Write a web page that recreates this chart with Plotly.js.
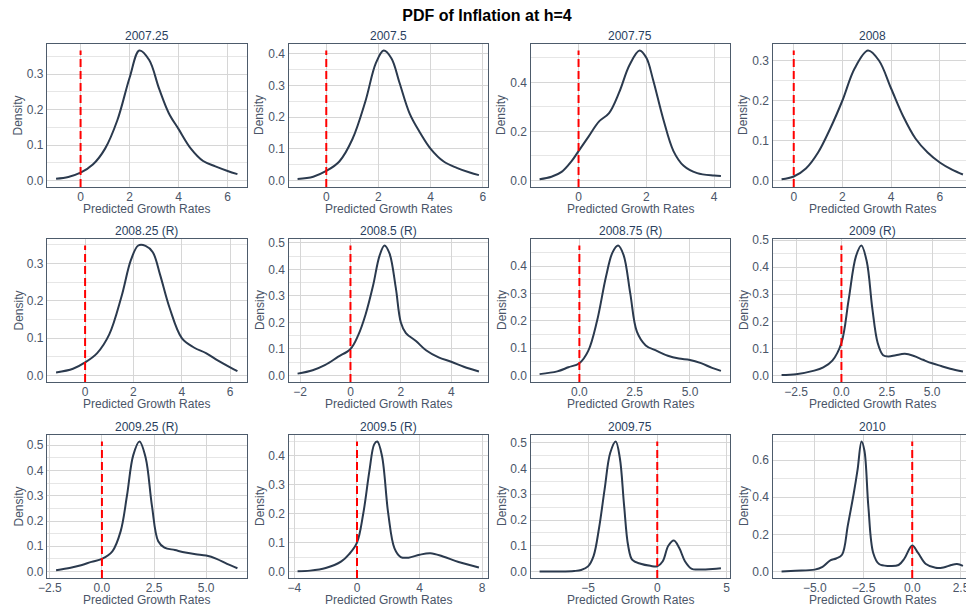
<!DOCTYPE html>
<html><head><meta charset="utf-8">
<script src="https://cdn.plot.ly/plotly-3.0.1.min.js"></script>
<style>html,body{margin:0;padding:0;overflow:hidden;background:#fff}#chart{width:1000px;height:606px}</style>
</head><body><div id="chart"></div><script>
const chartTitle = "PDF of Inflation at h=4";
const panelTitles = ["2007.25","2007.5","2007.75","2008","2008.25 (R)","2008.5 (R)","2008.75 (R)","2009 (R)","2009.25 (R)","2009.5 (R)","2009.75","2010"];
const xAxisTitle = "Predicted Growth Rates";
const yAxisTitle = "Density";
const threshold = 0;

const x_2007_25 = [-1.0,-0.5,0,0.5,1.0,1.5,2.0,2.4,2.8,3.2,3.6,4.0,4.5,5.0,5.5,6.0,6.4];
const d_2007_25 = [0.005,0.010,0.022,0.045,0.09,0.17,0.29,0.367,0.34,0.26,0.19,0.145,0.09,0.055,0.04,0.027,0.018];

const x_2007_5 = [-1.1,-0.5,0,0.5,1.0,1.5,1.9,2.2,2.5,2.8,3.2,3.6,4.0,4.5,5.0,5.5,5.85];
const d_2007_5 = [0.005,0.012,0.03,0.06,0.13,0.25,0.37,0.41,0.385,0.31,0.21,0.15,0.10,0.06,0.04,0.025,0.017];

const x_2007_75 = [-1.15,-0.8,-0.5,-0.2,0,0.3,0.6,0.9,1.2,1.5,1.8,2.0,2.2,2.5,2.8,3.1,3.5,4.0,4.2];
const d_2007_75 = [0.005,0.015,0.035,0.08,0.12,0.18,0.24,0.275,0.36,0.47,0.53,0.50,0.41,0.25,0.12,0.06,0.03,0.02,0.018];

const x_2008 = [-0.5,0,0.5,1.0,1.5,2.0,2.5,3.05,3.5,4.0,4.5,5.0,5.5,6.0,6.5,6.95];
const d_2008 = [0.003,0.01,0.03,0.07,0.13,0.20,0.28,0.325,0.30,0.23,0.16,0.105,0.07,0.045,0.027,0.015];

const x_2008_25 = [-1.2,-0.5,0,0.5,1.0,1.5,1.9,2.2,2.5,2.8,3.1,3.5,4.0,4.5,5.0,5.5,6.0,6.3];
const d_2008_25 = [0.008,0.018,0.035,0.06,0.11,0.21,0.31,0.348,0.347,0.33,0.27,0.18,0.10,0.075,0.06,0.04,0.022,0.012];

const x_2008_5 = [-2.1,-1.5,-1.0,-0.5,0,0.3,0.6,0.9,1.15,1.35,1.55,1.8,2.0,2.2,2.6,3.0,3.5,4.0,4.5,5.1];
const d_2008_5 = [0.007,0.02,0.04,0.07,0.10,0.15,0.23,0.34,0.45,0.49,0.46,0.33,0.20,0.16,0.13,0.095,0.068,0.052,0.033,0.015];

const x_2008_75 = [-1.8,-1.0,-0.5,0,0.4,0.8,1.2,1.5,1.75,2.0,2.3,2.6,3.0,3.5,4.0,4.5,5.0,5.5,6.0,6.4];
const d_2008_75 = [0.005,0.015,0.03,0.045,0.09,0.20,0.36,0.45,0.475,0.44,0.30,0.16,0.11,0.09,0.072,0.062,0.057,0.045,0.028,0.017];

const x_2009 = [-3.3,-2.5,-1.5,-1.0,-0.5,0,0.4,0.8,1.1,1.4,1.7,2.0,2.3,2.6,3.0,3.5,4.0,4.5,5.0,5.5,6.0,6.7];
const d_2009 = [0.002,0.005,0.018,0.03,0.055,0.12,0.28,0.44,0.48,0.42,0.25,0.12,0.075,0.07,0.075,0.08,0.072,0.058,0.045,0.035,0.025,0.015];

const x_2009_25 = [-2.2,-1.5,-1.0,-0.5,0,0.5,0.9,1.2,1.5,1.8,2.1,2.4,2.7,3.0,3.5,4.0,4.5,5.0,5.5,6.0,6.5];
const d_2009_25 = [0.005,0.015,0.025,0.038,0.05,0.08,0.16,0.30,0.46,0.515,0.45,0.26,0.12,0.095,0.085,0.075,0.068,0.063,0.05,0.03,0.013];

const x_2009_5 = [-3.8,-3.0,-2.0,-1.0,-0.5,0,0.4,0.8,1.1,1.3,1.6,2.0,2.4,2.8,3.3,4.0,4.7,5.5,6.5,7.8];
const d_2009_5 = [0.001,0.003,0.012,0.035,0.06,0.10,0.20,0.35,0.44,0.45,0.40,0.20,0.08,0.05,0.048,0.058,0.063,0.052,0.033,0.014];

const x_2009_75 = [-8.5,-7.0,-6.0,-5.5,-5.0,-4.6,-4.2,-3.8,-3.4,-3.0,-2.7,-2.4,-2.1,-1.8,-1.2,-0.5,0,0.4,0.8,1.2,1.6,2.0,2.5,3.0,4.0,4.6];
const d_2009_75 = [0.0,0.0,0.002,0.006,0.02,0.06,0.17,0.32,0.46,0.505,0.44,0.26,0.10,0.045,0.03,0.022,0.02,0.04,0.10,0.12,0.09,0.04,0.01,0.008,0.01,0.013];

const x_2010 = [-6.7,-6.0,-5.0,-4.6,-4.2,-3.9,-3.6,-3.3,-3.0,-2.8,-2.6,-2.45,-2.25,-2.0,-1.7,-1.2,-0.7,-0.4,0,0.3,0.7,1.2,1.6,2.0,2.3,2.6];
const d_2010 = [0.0,0.004,0.01,0.025,0.06,0.07,0.09,0.25,0.42,0.55,0.70,0.65,0.35,0.10,0.04,0.03,0.035,0.07,0.14,0.10,0.04,0.02,0.022,0.035,0.04,0.03];

const panelX = [x_2007_25,x_2007_5,x_2007_75,x_2008,x_2008_25,x_2008_5,x_2008_75,x_2009,x_2009_25,x_2009_5,x_2009_75,x_2010];
const panelD = [d_2007_25,d_2007_5,d_2007_75,d_2008,d_2008_25,d_2008_5,d_2008_75,d_2009,d_2009_25,d_2009_5,d_2009_75,d_2010];
const xTickStep = [2,2,2,2,2,2,2.5,2.5,2.5,4,5,2.5];
const yTickStep = [0.1,0.1,0.2,0.1,0.1,0.1,0.1,0.1,0.1,0.1,0.1,0.2];

// layout geometry (px)
const W = 1000, H = 606, ML = 47, MR = 28, MT = 44, MB = 28;
const PW = W - ML - MR, PH = H - MT - MB;
const colOff = [0, 241.5, 483.5, 725.5], colW = 199.5;
const rowOff = [0, 195, 391], rowH = 143;

const FONT = '"Liberation Sans", Arial, sans-serif';
const TXT = '#2a3f5f', TICK = '#4a5568';
const traces = [];
const layout = {
  width: W, height: H,
  margin: {l: ML, r: MR, t: MT, b: MB},
  paper_bgcolor: '#fff', plot_bgcolor: '#fff',
  showlegend: false,
  font: {family: FONT, color: TXT, size: 12},
  title: {text: '<b>' + chartTitle + '</b>', x: 0.487, xref: 'container', xanchor: 'center',
          y: 1 - 15/H, yref: 'container', yanchor: 'middle', font: {size: 16, color: '#000', family: FONT}},
  annotations: []
};

for (let i = 0; i < 12; i++) {
  const r = Math.floor(i / 4), c = i % 4;
  const xs = panelX[i], ds = panelD[i];
  const xmin = Math.min(...xs), xmax = Math.max(...xs);
  const dmax = Math.max(...ds), dmin = 0;
  const xr = [xmin - 0.05*(xmax-xmin), xmax + 0.05*(xmax-xmin)];
  const yr = [dmin - 0.05*(dmax-dmin), dmax + 0.05*(dmax-dmin)];
  const sfx = i === 0 ? '' : String(i+1);
  const xa = 'x' + sfx, ya = 'y' + sfx;
  traces.push({x: xs, y: ds, xaxis: xa, yaxis: ya, type: 'scatter', mode: 'lines',
    line: {color: '#2b3a4e', width: 2, shape: 'spline', smoothing: 1}, hoverinfo: 'x+y'});
  traces.push({x: [threshold, threshold], y: [yr[0], dmax], xaxis: xa, yaxis: ya, type: 'scatter', mode: 'lines',
    line: {color: '#ff0000', width: 2, dash: '8px,4px'}, hoverinfo: 'skip'});
  const x0 = colOff[c]/PW, x1 = Math.min(1, (colOff[c]+colW)/PW);
  const yTop = 1 - rowOff[r]/PH, yBot = 1 - (rowOff[r]+rowH)/PH;
  const oneDec = xTickStep[i] % 1 !== 0;
  layout['xaxis' + sfx] = {
    domain: [x0, x1], anchor: ya, range: xr, dtick: xTickStep[i], tick0: 0,
    tickformat: oneDec ? '.1f' : 'd', showgrid: true, gridcolor: '#d6d6d6', gridwidth: 1.3,
    zeroline: false, showline: true, mirror: true, linecolor: '#4d5b6b', linewidth: 1.3,
    ticks: '', ticklen: 0, ticklabelstandoff: -2, tickfont: {size: 12, color: TICK, family: FONT}
  };
  layout['yaxis' + sfx] = {
    domain: [yBot, yTop], anchor: xa, range: yr, dtick: yTickStep[i], tick0: 0,
    tickformat: '.1f', showgrid: true, gridcolor: '#d6d6d6', gridwidth: 1.3,
    minor: {dtick: yTickStep[i]/2, tick0: 0, showgrid: true, gridcolor: '#e6e6e6', gridwidth: 1.2, ticks: ''},
    zeroline: false, showline: true, mirror: true, linecolor: '#4d5b6b', linewidth: 1.3,
    ticks: '', ticklen: 0, tickfont: {size: 12, color: TICK, family: FONT}
  };
  layout.annotations.push({text: panelTitles[i], xref: 'paper', yref: 'paper',
    x: (x0 + x1)/2, y: yTop, xanchor: 'center', yanchor: 'bottom', yshift: -1, showarrow: false,
    font: {size: 12, color: TXT, family: FONT}});
  layout.annotations.push({text: xAxisTitle, xref: 'paper', yref: 'paper',
    x: (x0 + x1)/2, y: yBot, xanchor: 'center', yanchor: 'middle', yshift: -22, showarrow: false,
    font: {size: 12, color: TICK, family: FONT}});
  layout.annotations.push({text: yAxisTitle, xref: 'paper', yref: 'paper', textangle: -90,
    x: x0, y: (yTop + yBot)/2, xanchor: 'center', yanchor: 'middle', xshift: -29, showarrow: false,
    font: {size: 12, color: TICK, family: FONT}});
}

Plotly.newPlot('chart', traces, layout, {displayModeBar: false, responsive: false});
</script></body></html>
